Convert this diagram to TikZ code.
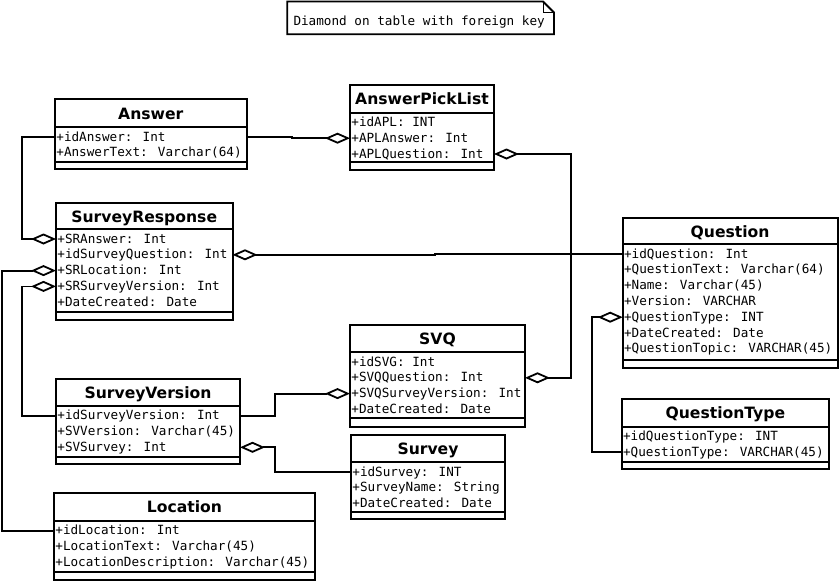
\documentclass[tikz,border=0pt]{standalone}
\usepackage{fontspec}
\usetikzlibrary{arrows.meta}
\newfontfamily\titlefont{DejaVu Sans}
\newfontfamily\attrfont{DejaVu Sans Mono}

\tikzset{
  classframe/.style={draw, line width=2pt, inner sep=0pt, outer sep=0pt, fill=white},
  rulerline/.style={line width=2pt},
  classtitle/.style={anchor=base, inner sep=0pt, font=\titlefont\bfseries\fontsize{15.6}{18}\selectfont},
  attr/.style={anchor=base west, inner sep=0pt, font=\attrfont\fontsize{12.65}{15}\selectfont},
  agg/.style={draw, line width=1.8pt, line join=miter,
    -{Diamond[open, length=25pt, width=11pt]}},
  notebox/.style={draw, line width=1.8pt, line join=miter},
  notefold/.style={draw, line width=1pt},
}

% #1 name, #2 left, #3 top, #4 right, #5 title rule, #6 attribute rule,
% #7 bottom, #8 title, #9 attribute list
\newcommand\umlclass[9]{%
  \node[classframe, minimum width={(#4-#2)*1pt}, minimum height={(#7-#3)*1pt}]
    (#1) at ({(#2+#4)/2},{(#3+#7)/2}) {};
  \draw[rulerline] (#2,#5) -- (#4,#5);
  \draw[rulerline] (#2,#6) -- (#4,#6);
  \node[classtitle] (#1-title) at ({(#2+#4)/2},{(#3+#5)/2+5.7}) {#8};
  \foreach \t [count=\i] in {#9} {
    \node[attr] (#1-a\i) at ({#2+1.2},{#5+13.7+(\i-1)*15.8}) {\t};
    \coordinate (#1-r\i) at ({#2},{#5+9.7+(\i-1)*15.8});
  }%
}

\begin{document}
\begin{tikzpicture}[x=1pt, y=-1pt]
\useasboundingbox (0,0) rectangle (839,581);
\fill[white] (0,0) rectangle (839,581);

% note
\draw[notebox] (287.3,1.5) -- (543,1.5) -- (554,12.5) -- (554,34.3) -- (287.3,34.3) -- cycle;
\draw[notefold] (543,1.5) -- (543,12.5) -- (554,12.5);
\node[attr] (note-text) at (293.3,25.7) {Diamond on table with foreign key};

% tables
\umlclass{answer}{55}{99.3}{246.5}{127.3}{162}{169.3}{Answer}
  {+idAnswer: Int, +AnswerText: Varchar(64)}
\umlclass{apl}{350}{84.7}{494}{112.7}{162}{170}{AnswerPickList}
  {+idAPL: INT, +APLAnswer: Int, +APLQuestion: Int}
\umlclass{sr}{56}{203.3}{232.5}{229.3}{311.7}{320}{SurveyResponse}
  {+SRAnswer: Int, +idSurveyQuestion: Int, +SRLocation: Int, +SRSurveyVersion: Int, +DateCreated: Date}
\umlclass{question}{622.7}{218.3}{837.5}{244.3}{360}{367.7}{Question}
  {+idQuestion: Int, +QuestionText: Varchar(64), +Name: Varchar(45), +Version: VARCHAR, +QuestionType: INT, +DateCreated: Date, +QuestionTopic: VARCHAR(45)}
\umlclass{svq}{350}{325}{525}{352.3}{418.3}{426.7}{SVQ}
  {+idSVG: Int, +SVQQuestion: Int, +SVQSurveyVersion: Int, +DateCreated: Date}
\umlclass{sv}{56}{379.3}{240}{406}{457.3}{464.3}{SurveyVersion}
  {+idSurveyVersion: Int, +SVVersion: Varchar(45), +SVSurvey: Int}
\umlclass{survey}{351}{435}{505}{462.3}{512.3}{519.3}{Survey}
  {+idSurvey: INT, +SurveyName: String, +DateCreated: Date}
\umlclass{location}{54}{493.3}{315}{521}{572.3}{580}{Location}
  {+idLocation: Int, +LocationText: Varchar(45), +LocationDescription: Varchar(45)}
\umlclass{qt}{621.7}{399.3}{829}{426.7}{461.7}{469.3}{QuestionType}
  {+idQuestionType: INT, +QuestionType: VARCHAR(45)}

% shared vertical run towards Question
\coordinate (qbus) at (571,0);

% foreign keys (diamond on the referencing table)
\draw[agg] (answer.east |- answer-r1) -- ++(45.5,0) |- (apl-r2);
\draw[agg] (question-r1) -- (qbus |- question-r1) |- (apl.east |- apl-r3);
\draw[agg] (qbus |- question-r1) |- (svq.east |- svq-r2);
\draw[agg] (question-r1) -- ++(-188,0) |- (sr.east |- sr-r2);
\draw[agg] (answer-r1) -- ++(-33,0) |- (sr-r1);
\draw[agg] (location-r1) -- ++(-52,0) |- (sr-r3);
\draw[agg] (sv-r1) -- ++(-34,0) |- (sr-r4);
\draw[agg] (sv.east |- sv-r1) -- ++(35,0) |- (svq-r3);
\draw[agg] (survey-r1) -- ++(-76,0) |- (sv.east |- sv-r3);
\draw[agg] (qt-r2) -- ++(-30,0) |- (question-r5);
\end{tikzpicture}
\end{document}
